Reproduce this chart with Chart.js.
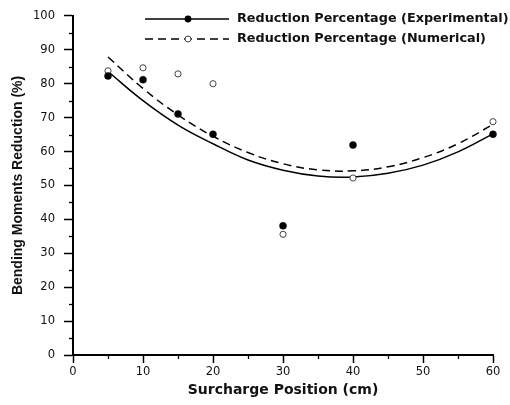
<!DOCTYPE html>
<html>
<head>
<meta charset="utf-8">
<script src="https://cdn.jsdelivr.net/npm/chart.js@4/dist/chart.umd.min.js"></script>
<style>
  html, body { margin: 0; padding: 0; background: #fff; }
  #wrap { width: 510px; height: 405px; }
</style>
</head>
<body>
<div id="wrap"><canvas id="c" width="510" height="405"></canvas></div>
<script>
// Surcharge positions (cm) of the measured/computed points
const positions = [5, 10, 15, 20, 30, 40, 60];
// Reduction percentage (%)
const experimental = [82.3, 81.2, 71.1, 65.1, 38.1, 61.9, 65.1];
const numerical    = [83.8, 84.7, 82.9, 80.0, 35.6, 52.2, 68.8];
// Trend curves
const curveX       = [5, 10, 15, 20, 25, 30, 35, 40, 45, 50, 55, 60];
const expCurve     = [83.6, 75.0, 67.8, 62.3, 57.5, 54.5, 52.8, 52.5, 53.6, 56.0, 59.9, 65.2];
const numCurve     = [87.9, 78.6, 70.8, 64.5, 59.7, 56.4, 54.6, 54.3, 55.5, 58.2, 62.3, 68.0];
// Axis ticks
const xTicks = [0, 10, 20, 30, 40, 50, 60];
const yTicks = [0, 10, 20, 30, 40, 50, 60, 70, 80, 90, 100];
const legendLabels = ['Reduction Percentage (Experimental)', 'Reduction Percentage (Numerical)'];

const pts = (xs, ys) => xs.map((x, i) => ({x: x, y: ys[i]}));

const minorTicks = {
  id: 'minorTicks',
  afterDraw(chart) {
    const ctx = chart.ctx;
    const xs = chart.scales.x, ys = chart.scales.y;
    ctx.save();
    ctx.strokeStyle = '#000';
    ctx.lineWidth = 1.3;
    for (let v = 5; v < 100; v += 10) {
      const py = Math.round(ys.getPixelForValue(v)) + 0.5;
      ctx.beginPath(); ctx.moveTo(xs.left - 4, py); ctx.lineTo(xs.left, py); ctx.stroke();
    }
    for (let v = 5; v < 60; v += 10) {
      const px = Math.round(xs.getPixelForValue(v)) + 0.5;
      ctx.beginPath(); ctx.moveTo(px, ys.bottom); ctx.lineTo(px, ys.bottom + 4); ctx.stroke();
    }
    ctx.restore();
  }
};

const customLegend = {
  id: 'customLegend',
  afterDraw(chart) {
    const ctx = chart.ctx;
    ctx.save();
    const x0 = 145, x1 = 229, xm = 188, tx = 237;
    const rows = [19, 39];
    ctx.strokeStyle = '#000'; ctx.lineWidth = 1.5; ctx.setLineDash([]);
    ctx.beginPath(); ctx.moveTo(x0, rows[0]); ctx.lineTo(x1, rows[0]); ctx.stroke();
    ctx.fillStyle = '#000';
    ctx.beginPath(); ctx.arc(xm, rows[0], 3.4, 0, Math.PI * 2); ctx.fill();
    ctx.setLineDash([8, 5]);
    ctx.beginPath(); ctx.moveTo(x0, rows[1]); ctx.lineTo(x1, rows[1]); ctx.stroke();
    ctx.setLineDash([]);
    ctx.fillStyle = '#fff'; ctx.strokeStyle = '#444'; ctx.lineWidth = 1;
    ctx.beginPath(); ctx.arc(xm, rows[1], 3, 0, Math.PI * 2); ctx.fill(); ctx.stroke();
    ctx.fillStyle = '#111';
    ctx.font = 'bold 12.8px "DejaVu Sans"';
    ctx.textBaseline = 'middle';
    ctx.textAlign = 'left';
    ctx.fillText(legendLabels[0], tx, rows[0]);
    ctx.fillText(legendLabels[1], tx, rows[1]);
    ctx.restore();
  }
};

new Chart(document.getElementById('c'), {
  type: 'scatter',
  data: {
    datasets: [
      {
        type: 'line', label: 'expFit', data: pts(curveX, expCurve), clip: false,
        borderColor: '#000', borderWidth: 1.5, pointRadius: 0, tension: 0.4, fill: false, order: 3
      },
      {
        type: 'line', label: 'numFit', data: pts(curveX, numCurve), clip: false,
        borderColor: '#000', borderWidth: 1.5, borderDash: [8, 5], pointRadius: 0, tension: 0.4, fill: false, order: 4
      },
      {
        label: legendLabels[0], data: pts(positions, experimental), clip: false,
        pointRadius: 3.5, pointBackgroundColor: '#000', pointBorderColor: '#000', pointBorderWidth: 0.5, order: 1
      },
      {
        label: legendLabels[1], data: pts(positions, numerical), clip: false,
        pointRadius: 3.1, pointBackgroundColor: '#fff', pointBorderColor: '#444', pointBorderWidth: 1, order: 2
      }
    ]
  },
  options: {
    responsive: false,
    animation: false,
    layout: { padding: { top: 10, right: 17, left: 0, bottom: 0 } },
    plugins: { legend: { display: false }, tooltip: { enabled: false } },
    scales: {
      x: {
        type: 'linear', min: 0, max: 60,
        afterBuildTicks(s) { s.ticks = xTicks.map(v => ({value: v})); },
        afterFit(s) { s.height = 50; },
        ticks: { color: '#111', font: { family: 'DejaVu Sans', size: 11.5 }, padding: 2 },
        grid: { drawOnChartArea: false, drawTicks: true, tickLength: 8, tickColor: '#000', tickWidth: 1.5 },
        border: { color: '#000', width: 2 },
        title: {
          display: true, text: 'Surcharge Position (cm)', color: '#111',
          font: { family: 'DejaVu Sans', weight: 'bold', size: 14 }, padding: { top: 0, bottom: 6 }
        }
      },
      y: {
        type: 'linear', min: 0, max: 100,
        afterBuildTicks(s) { s.ticks = yTicks.map(v => ({value: v})); },
        afterFit(s) { s.width = 73; },
        ticks: { color: '#111', font: { family: 'DejaVu Sans', size: 11.5 }, padding: 9 },
        grid: { drawOnChartArea: false, drawTicks: true, tickLength: 9, tickColor: '#000', tickWidth: 1.5 },
        border: { color: '#000', width: 2 },
        title: {
          display: true, text: 'Bending Moments Reduction (%)', color: '#111',
          font: { family: 'Liberation Sans', weight: 'bold', size: 14 }, padding: { top: 10, bottom: 4 }
        }
      }
    }
  },
  plugins: [minorTicks, customLegend]
});
</script>
</body>
</html>
